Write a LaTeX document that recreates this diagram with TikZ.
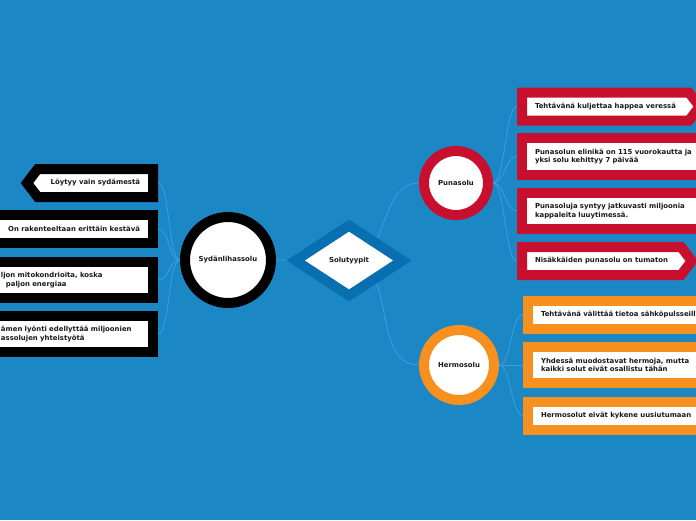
\documentclass[tikz,border=0pt]{standalone}
\usepackage{fontspec}
\setmainfont{DejaVu Sans}
\usetikzlibrary{positioning,shapes.geometric,shapes.symbols}

\definecolor{mapblue}{RGB}{27,135,197}
\definecolor{rootblue}{RGB}{8,112,176}
\definecolor{linkblue}{RGB}{52,162,230}
\definecolor{cellred}{RGB}{200,16,46}
\definecolor{cellorange}{RGB}{247,144,30}
\definecolor{celltext}{RGB}{25,25,25}

\pgfdeclarelayer{bg}
\pgfsetlayers{bg,main}

\begin{document}
\begin{tikzpicture}[
    x=1pt, y=-1pt,
    every node/.style={font=\fontsize{6.9}{8.5}\selectfont\bfseries, text=celltext},
    cell/.style={circle, draw=#1, line width=10pt, fill=white, inner sep=0pt, outer sep=5pt},
    fact/.style={rectangle, draw=#1, line width=10pt, fill=white, inner xsep=13pt, inner ysep=0pt,
      outer sep=5pt, minimum height=28pt, align=left},
    tag/.style={signal, draw=#1, line width=10pt, fill=white, inner xsep=13pt, inner ysep=0pt,
      outer sep=5pt, minimum height=28pt, signal pointer angle=105},
    link/.style={draw=linkblue, line width=0.8pt},
  ]
  \useasboundingbox (0,0) rectangle (696,520);

  % Solutyypit
  \node[diamond, draw=rootblue, line width=10pt, fill=white, inner sep=0pt,
    minimum width=111pt, minimum height=74pt] (solu) at (349,260.5) {Solutyypit};

  % Sydanlihassolu
  \node[cell=black, minimum size=86pt] (syd) at (228,260) {Sydänlihassolu};
  \node[tag=black, signal to=west, anchor=east] (lb1) at (158,183) {Löytyy vain sydämestä};
  \node[fact=black, anchor=east] (lb2) at (158,229) {On rakenteeltaan erittäin kestävä};
  \node[fact=black, anchor=east, minimum height=36.5pt, text width=139pt] (lb3) at (158,280)
    {ljon mitokondrioita, koska\\\hspace*{5pt}paljon energiaa};
  \node[fact=black, anchor=east, minimum height=36.5pt, text width=139pt] (lb4) at (158,334)
    {ämen lyönti edellyttää miljoonien\\assolujen yhteistyötä};

  % Punasolu
  \node[cell=cellred, minimum size=64pt] (puna) at (456,183) {Punasolu};
  \node[tag=cellred, anchor=west] (rb1) at (517,106.5) {Tehtävänä kuljettaa happea veressä};
  \node[fact=cellred, anchor=west, minimum height=36.5pt, text width=180pt] (rb2) at (517,156.5)
    {Punasolun elinikä on 115 vuorokautta ja\\yksi solu kehittyy 7 päivää};
  \node[fact=cellred, anchor=west, minimum height=36.5pt, text width=180pt] (rb3) at (517,211)
    {Punasoluja syntyy jatkuvasti miljoonia\\kappaleita luuytimessä.};
  \node[tag=cellred, anchor=west] (rb4) at (517,261) {Nisäkkäiden punasolu on tumaton};

  % Hermosolu
  \node[cell=cellorange, minimum size=70pt] (hermo) at (459,365) {Hermosolu};
  \node[fact=cellorange, anchor=west, text width=180pt] (ob1) at (523,314.5)
    {Tehtävänä välittää tietoa sähköpulsseilla};
  \node[fact=cellorange, anchor=west, minimum height=36.5pt, text width=180pt] (ob2) at (523,365)
    {Yhdessä muodostavat hermoja, mutta\\kaikki solut eivät osallistu tähän};
  \node[fact=cellorange, anchor=west, text width=180pt] (ob3) at (523,415.5)
    {Hermosolut eivät kykene uusiutumaan};

  \begin{pgfonlayer}{bg}
    \fill[mapblue] (0,0) rectangle (696,520);
    \draw[link] (solu.center) to[out=180,in=0] (syd.east);
    \draw[link] (solu.center) to[out=0,in=180] (puna.west);
    \draw[link] (solu.center) to[out=0,in=180] (hermo.west);
    \foreach \b in {lb1,lb2,lb3,lb4}
      \draw[link] (syd.west) to[out=180,in=0,distance=12pt] (\b.east);
    \foreach \b in {rb1,rb2,rb3,rb4}
      \draw[link] (puna.east) to[out=0,in=180,distance=12pt] (\b.west);
    \foreach \b in {ob1,ob2,ob3}
      \draw[link] (hermo.east) to[out=0,in=180,distance=12pt] (\b.west);
  \end{pgfonlayer}
\end{tikzpicture}
\end{document}
